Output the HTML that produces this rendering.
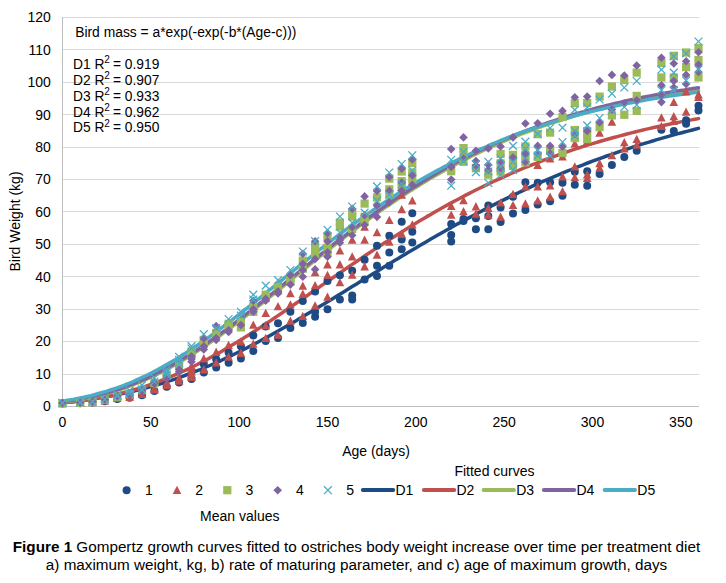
<!DOCTYPE html>
<html><head><meta charset="utf-8"><style>
html,body{margin:0;padding:0;background:#fff;width:726px;height:583px;overflow:hidden}
svg{display:block}
.t{font-family:"Liberation Sans",Arial,sans-serif;font-size:14px;fill:#000}
.c{font-family:"Liberation Sans",Arial,sans-serif;font-size:15.25px;fill:#000}
</style></head><body>
<svg width="726" height="583" viewBox="0 0 726 583">
<line x1="62" y1="374.5" x2="699" y2="374.5" stroke="#D9D9D9" stroke-width="1"/>
<line x1="62" y1="341.5" x2="699" y2="341.5" stroke="#D9D9D9" stroke-width="1"/>
<line x1="62" y1="309.5" x2="699" y2="309.5" stroke="#D9D9D9" stroke-width="1"/>
<line x1="62" y1="276.5" x2="699" y2="276.5" stroke="#D9D9D9" stroke-width="1"/>
<line x1="62" y1="244.5" x2="699" y2="244.5" stroke="#D9D9D9" stroke-width="1"/>
<line x1="62" y1="211.5" x2="699" y2="211.5" stroke="#D9D9D9" stroke-width="1"/>
<line x1="62" y1="179.5" x2="699" y2="179.5" stroke="#D9D9D9" stroke-width="1"/>
<line x1="62" y1="147.5" x2="699" y2="147.5" stroke="#D9D9D9" stroke-width="1"/>
<line x1="62" y1="114.5" x2="699" y2="114.5" stroke="#D9D9D9" stroke-width="1"/>
<line x1="62" y1="82.5" x2="699" y2="82.5" stroke="#D9D9D9" stroke-width="1"/>
<line x1="62" y1="49.5" x2="699" y2="49.5" stroke="#D9D9D9" stroke-width="1"/>
<line x1="62" y1="17.5" x2="699" y2="17.5" stroke="#D9D9D9" stroke-width="1"/>
<line x1="62.5" y1="17" x2="62.5" y2="407" stroke="#BFBFBF" stroke-width="1"/>
<line x1="62" y1="406.5" x2="699" y2="406.5" stroke="#BFBFBF" stroke-width="1"/>
<text x="50.8" y="411.2" text-anchor="end" class="t">0</text>
<text x="50.8" y="378.8" text-anchor="end" class="t">10</text>
<text x="50.8" y="346.4" text-anchor="end" class="t">20</text>
<text x="50.8" y="313.9" text-anchor="end" class="t">30</text>
<text x="50.8" y="281.5" text-anchor="end" class="t">40</text>
<text x="50.8" y="249.1" text-anchor="end" class="t">50</text>
<text x="50.8" y="216.7" text-anchor="end" class="t">60</text>
<text x="50.8" y="184.3" text-anchor="end" class="t">70</text>
<text x="50.8" y="151.9" text-anchor="end" class="t">80</text>
<text x="50.8" y="119.5" text-anchor="end" class="t">90</text>
<text x="50.8" y="87.0" text-anchor="end" class="t">100</text>
<text x="50.8" y="54.6" text-anchor="end" class="t">110</text>
<text x="50.8" y="22.2" text-anchor="end" class="t">120</text>
<text x="62.5" y="427.2" text-anchor="middle" class="t">0</text>
<text x="150.8" y="427.2" text-anchor="middle" class="t">50</text>
<text x="239.2" y="427.2" text-anchor="middle" class="t">100</text>
<text x="327.5" y="427.2" text-anchor="middle" class="t">150</text>
<text x="415.8" y="427.2" text-anchor="middle" class="t">200</text>
<text x="504.2" y="427.2" text-anchor="middle" class="t">250</text>
<text x="592.5" y="427.2" text-anchor="middle" class="t">300</text>
<text x="680.8" y="427.2" text-anchor="middle" class="t">350</text>
<polyline points="62.5,402.4 66.0,402.1 69.6,401.7 73.1,401.4 76.6,401.0 80.2,400.6 83.7,400.1 87.2,399.7 90.8,399.2 94.3,398.7 97.8,398.1 101.4,397.6 104.9,397.0 108.4,396.4 112.0,395.7 115.5,395.0 119.0,394.3 122.6,393.6 126.1,392.8 129.6,392.1 133.2,391.2 136.7,390.4 140.2,389.5 143.8,388.6 147.3,387.6 150.8,386.6 154.4,385.6 157.9,384.6 161.4,383.5 165.0,382.4 168.5,381.2 172.0,380.1 175.6,378.9 179.1,377.6 182.6,376.3 186.2,375.0 189.7,373.7 193.2,372.3 196.8,370.9 200.3,369.5 203.8,368.0 207.4,366.5 210.9,365.0 214.4,363.5 218.0,361.9 221.5,360.3 225.0,358.6 228.6,356.9 232.1,355.3 235.6,353.5 239.2,351.8 242.7,350.0 246.2,348.2 249.8,346.4 253.3,344.5 256.8,342.7 260.4,340.8 263.9,338.9 267.4,337.0 271.0,335.0 274.5,333.0 278.0,331.1 281.6,329.0 285.1,327.0 288.6,325.0 292.2,322.9 295.7,320.9 299.2,318.8 302.8,316.7 306.3,314.6 309.8,312.5 313.4,310.4 316.9,308.3 320.4,306.1 324.0,304.0 327.5,301.8 331.0,299.7 334.6,297.5 338.1,295.3 341.6,293.2 345.2,291.0 348.7,288.8 352.2,286.6 355.8,284.4 359.3,282.3 362.8,280.1 366.4,277.9 369.9,275.7 373.4,273.6 377.0,271.4 380.5,269.2 384.0,267.1 387.6,264.9 391.1,262.8 394.6,260.6 398.2,258.5 401.7,256.3 405.2,254.2 408.8,252.1 412.3,250.0 415.8,247.9 419.4,245.8 422.9,243.7 426.4,241.7 430.0,239.6 433.5,237.6 437.0,235.6 440.6,233.5 444.1,231.5 447.6,229.5 451.2,227.6 454.7,225.6 458.2,223.6 461.8,221.7 465.3,219.8 468.8,217.9 472.4,216.0 475.9,214.1 479.4,212.2 483.0,210.4 486.5,208.5 490.0,206.7 493.6,204.9 497.1,203.1 500.6,201.4 504.2,199.6 507.7,197.9 511.2,196.1 514.8,194.4 518.3,192.8 521.8,191.1 525.4,189.4 528.9,187.8 532.4,186.2 536.0,184.6 539.5,183.0 543.0,181.4 546.6,179.9 550.1,178.3 553.6,176.8 557.2,175.3 560.7,173.8 564.2,172.3 567.8,170.9 571.3,169.5 574.8,168.0 578.4,166.6 581.9,165.3 585.4,163.9 589.0,162.5 592.5,161.2 596.0,159.9 599.6,158.6 603.1,157.3 606.6,156.0 610.2,154.8 613.7,153.6 617.2,152.3 620.8,151.1 624.3,149.9 627.8,148.8 631.4,147.6 634.9,146.5 638.4,145.3 642.0,144.2 645.5,143.1 649.0,142.1 652.6,141.0 656.1,139.9 659.6,138.9 663.2,137.9 666.7,136.9 670.2,135.9 673.8,134.9 677.3,133.9 680.8,133.0 684.4,132.0 687.9,131.1 691.4,130.2 695.0,129.3 698.5,128.4" fill="none" stroke="#1F4B85" stroke-width="3.5" stroke-linejoin="round" stroke-linecap="round"/>
<polyline points="62.5,403.0 66.0,402.6 69.6,402.2 73.1,401.9 76.6,401.4 80.2,401.0 83.7,400.5 87.2,400.0 90.8,399.4 94.3,398.8 97.8,398.2 101.4,397.6 104.9,396.9 108.4,396.2 112.0,395.4 115.5,394.6 119.0,393.8 122.6,392.9 126.1,392.0 129.6,391.0 133.2,390.0 136.7,389.0 140.2,387.9 143.8,386.8 147.3,385.6 150.8,384.4 154.4,383.1 157.9,381.8 161.4,380.5 165.0,379.1 168.5,377.6 172.0,376.2 175.6,374.7 179.1,373.1 182.6,371.5 186.2,369.9 189.7,368.2 193.2,366.5 196.8,364.7 200.3,362.9 203.8,361.1 207.4,359.2 210.9,357.3 214.4,355.3 218.0,353.4 221.5,351.4 225.0,349.3 228.6,347.2 232.1,345.1 235.6,343.0 239.2,340.8 242.7,338.7 246.2,336.4 249.8,334.2 253.3,331.9 256.8,329.7 260.4,327.4 263.9,325.0 267.4,322.7 271.0,320.4 274.5,318.0 278.0,315.6 281.6,313.2 285.1,310.8 288.6,308.4 292.2,305.9 295.7,303.5 299.2,301.1 302.8,298.6 306.3,296.2 309.8,293.7 313.4,291.3 316.9,288.8 320.4,286.3 324.0,283.9 327.5,281.4 331.0,279.0 334.6,276.5 338.1,274.1 341.6,271.6 345.2,269.2 348.7,266.8 352.2,264.4 355.8,262.0 359.3,259.6 362.8,257.2 366.4,254.8 369.9,252.5 373.4,250.1 377.0,247.8 380.5,245.5 384.0,243.2 387.6,240.9 391.1,238.6 394.6,236.4 398.2,234.1 401.7,231.9 405.2,229.7 408.8,227.5 412.3,225.4 415.8,223.2 419.4,221.1 422.9,219.0 426.4,216.9 430.0,214.9 433.5,212.8 437.0,210.8 440.6,208.8 444.1,206.8 447.6,204.9 451.2,202.9 454.7,201.0 458.2,199.2 461.8,197.3 465.3,195.4 468.8,193.6 472.4,191.8 475.9,190.0 479.4,188.3 483.0,186.6 486.5,184.9 490.0,183.2 493.6,181.5 497.1,179.9 500.6,178.3 504.2,176.7 507.7,175.1 511.2,173.5 514.8,172.0 518.3,170.5 521.8,169.0 525.4,167.5 528.9,166.1 532.4,164.7 536.0,163.3 539.5,161.9 543.0,160.5 546.6,159.2 550.1,157.9 553.6,156.6 557.2,155.3 560.7,154.1 564.2,152.8 567.8,151.6 571.3,150.4 574.8,149.2 578.4,148.1 581.9,146.9 585.4,145.8 589.0,144.7 592.5,143.6 596.0,142.6 599.6,141.5 603.1,140.5 606.6,139.5 610.2,138.5 613.7,137.5 617.2,136.6 620.8,135.6 624.3,134.7 627.8,133.8 631.4,132.9 634.9,132.0 638.4,131.1 642.0,130.3 645.5,129.4 649.0,128.6 652.6,127.8 656.1,127.0 659.6,126.2 663.2,125.5 666.7,124.7 670.2,124.0 673.8,123.3 677.3,122.6 680.8,121.9 684.4,121.2 687.9,120.5 691.4,119.9 695.0,119.2 698.5,118.6" fill="none" stroke="#C0504D" stroke-width="3.5" stroke-linejoin="round" stroke-linecap="round"/>
<polyline points="62.5,402.2 66.0,401.7 69.6,401.2 73.1,400.7 76.6,400.2 80.2,399.6 83.7,398.9 87.2,398.2 90.8,397.5 94.3,396.7 97.8,395.9 101.4,395.0 104.9,394.1 108.4,393.2 112.0,392.1 115.5,391.1 119.0,389.9 122.6,388.8 126.1,387.5 129.6,386.2 133.2,384.9 136.7,383.5 140.2,382.1 143.8,380.6 147.3,379.0 150.8,377.4 154.4,375.7 157.9,374.0 161.4,372.2 165.0,370.4 168.5,368.5 172.0,366.5 175.6,364.6 179.1,362.5 182.6,360.4 186.2,358.3 189.7,356.1 193.2,353.9 196.8,351.6 200.3,349.3 203.8,346.9 207.4,344.5 210.9,342.1 214.4,339.6 218.0,337.1 221.5,334.5 225.0,331.9 228.6,329.3 232.1,326.7 235.6,324.0 239.2,321.3 242.7,318.6 246.2,315.9 249.8,313.1 253.3,310.3 256.8,307.5 260.4,304.7 263.9,301.9 267.4,299.0 271.0,296.2 274.5,293.3 278.0,290.5 281.6,287.6 285.1,284.8 288.6,281.9 292.2,279.0 295.7,276.1 299.2,273.3 302.8,270.4 306.3,267.6 309.8,264.7 313.4,261.9 316.9,259.0 320.4,256.2 324.0,253.4 327.5,250.6 331.0,247.8 334.6,245.1 338.1,242.3 341.6,239.6 345.2,236.9 348.7,234.2 352.2,231.5 355.8,228.8 359.3,226.2 362.8,223.6 366.4,221.0 369.9,218.4 373.4,215.9 377.0,213.4 380.5,210.9 384.0,208.4 387.6,206.0 391.1,203.6 394.6,201.2 398.2,198.8 401.7,196.5 405.2,194.2 408.8,191.9 412.3,189.7 415.8,187.4 419.4,185.2 422.9,183.1 426.4,180.9 430.0,178.8 433.5,176.8 437.0,174.7 440.6,172.7 444.1,170.7 447.6,168.7 451.2,166.8 454.7,164.9 458.2,163.0 461.8,161.2 465.3,159.4 468.8,157.6 472.4,155.8 475.9,154.1 479.4,152.4 483.0,150.7 486.5,149.0 490.0,147.4 493.6,145.8 497.1,144.2 500.6,142.7 504.2,141.2 507.7,139.7 511.2,138.2 514.8,136.8 518.3,135.4 521.8,134.0 525.4,132.6 528.9,131.3 532.4,130.0 536.0,128.7 539.5,127.4 543.0,126.2 546.6,124.9 550.1,123.7 553.6,122.6 557.2,121.4 560.7,120.3 564.2,119.1 567.8,118.1 571.3,117.0 574.8,115.9 578.4,114.9 581.9,113.9 585.4,112.9 589.0,111.9 592.5,111.0 596.0,110.0 599.6,109.1 603.1,108.2 606.6,107.3 610.2,106.5 613.7,105.6 617.2,104.8 620.8,104.0 624.3,103.2 627.8,102.4 631.4,101.7 634.9,100.9 638.4,100.2 642.0,99.5 645.5,98.8 649.0,98.1 652.6,97.4 656.1,96.7 659.6,96.1 663.2,95.5 666.7,94.8 670.2,94.2 673.8,93.6 677.3,93.1 680.8,92.5 684.4,91.9 687.9,91.4 691.4,90.8 695.0,90.3 698.5,89.8" fill="none" stroke="#9BBB59" stroke-width="3.5" stroke-linejoin="round" stroke-linecap="round"/>
<polyline points="62.5,401.8 66.0,401.3 69.6,400.8 73.1,400.2 76.6,399.6 80.2,399.0 83.7,398.3 87.2,397.6 90.8,396.9 94.3,396.1 97.8,395.2 101.4,394.3 104.9,393.4 108.4,392.4 112.0,391.3 115.5,390.2 119.0,389.0 122.6,387.8 126.1,386.6 129.6,385.2 133.2,383.9 136.7,382.4 140.2,381.0 143.8,379.4 147.3,377.8 150.8,376.2 154.4,374.5 157.9,372.7 161.4,370.9 165.0,369.1 168.5,367.1 172.0,365.2 175.6,363.2 179.1,361.1 182.6,359.0 186.2,356.8 189.7,354.6 193.2,352.4 196.8,350.1 200.3,347.7 203.8,345.4 207.4,342.9 210.9,340.5 214.4,338.0 218.0,335.5 221.5,332.9 225.0,330.3 228.6,327.7 232.1,325.0 235.6,322.4 239.2,319.7 242.7,316.9 246.2,314.2 249.8,311.4 253.3,308.6 256.8,305.8 260.4,303.0 263.9,300.2 267.4,297.4 271.0,294.5 274.5,291.7 278.0,288.8 281.6,286.0 285.1,283.1 288.6,280.2 292.2,277.3 295.7,274.5 299.2,271.6 302.8,268.8 306.3,265.9 309.8,263.1 313.4,260.2 316.9,257.4 320.4,254.6 324.0,251.8 327.5,249.0 331.0,246.2 334.6,243.4 338.1,240.7 341.6,238.0 345.2,235.3 348.7,232.6 352.2,229.9 355.8,227.3 359.3,224.6 362.8,222.0 366.4,219.4 369.9,216.9 373.4,214.3 377.0,211.8 380.5,209.3 384.0,206.9 387.6,204.4 391.1,202.0 394.6,199.6 398.2,197.3 401.7,194.9 405.2,192.6 408.8,190.4 412.3,188.1 415.8,185.9 419.4,183.7 422.9,181.5 426.4,179.4 430.0,177.3 433.5,175.2 437.0,173.2 440.6,171.1 444.1,169.1 447.6,167.2 451.2,165.2 454.7,163.3 458.2,161.5 461.8,159.6 465.3,157.8 468.8,156.0 472.4,154.2 475.9,152.5 479.4,150.8 483.0,149.1 486.5,147.4 490.0,145.8 493.6,144.2 497.1,142.6 500.6,141.1 504.2,139.6 507.7,138.1 511.2,136.6 514.8,135.1 518.3,133.7 521.8,132.3 525.4,130.9 528.9,129.6 532.4,128.3 536.0,127.0 539.5,125.7 543.0,124.4 546.6,123.2 550.1,122.0 553.6,120.8 557.2,119.7 560.7,118.5 564.2,117.4 567.8,116.3 571.3,115.2 574.8,114.2 578.4,113.1 581.9,112.1 585.4,111.1 589.0,110.1 592.5,109.2 596.0,108.2 599.6,107.3 603.1,106.4 606.6,105.5 610.2,104.6 613.7,103.8 617.2,102.9 620.8,102.1 624.3,101.3 627.8,100.5 631.4,99.7 634.9,99.0 638.4,98.2 642.0,97.5 645.5,96.8 649.0,96.1 652.6,95.4 656.1,94.8 659.6,94.1 663.2,93.5 666.7,92.8 670.2,92.2 673.8,91.6 677.3,91.0 680.8,90.4 684.4,89.9 687.9,89.3 691.4,88.8 695.0,88.2 698.5,87.7" fill="none" stroke="#8064A2" stroke-width="3.5" stroke-linejoin="round" stroke-linecap="round"/>
<polyline points="62.5,401.1 66.0,400.6 69.6,400.0 73.1,399.4 76.6,398.7 80.2,398.0 83.7,397.3 87.2,396.5 90.8,395.7 94.3,394.8 97.8,393.8 101.4,392.8 104.9,391.8 108.4,390.7 112.0,389.5 115.5,388.3 119.0,387.1 122.6,385.8 126.1,384.4 129.6,383.0 133.2,381.5 136.7,379.9 140.2,378.3 143.8,376.7 147.3,375.0 150.8,373.2 154.4,371.4 157.9,369.5 161.4,367.6 165.0,365.6 168.5,363.6 172.0,361.5 175.6,359.4 179.1,357.2 182.6,355.0 186.2,352.8 189.7,350.4 193.2,348.1 196.8,345.7 200.3,343.3 203.8,340.8 207.4,338.3 210.9,335.7 214.4,333.2 218.0,330.5 221.5,327.9 225.0,325.2 228.6,322.6 232.1,319.8 235.6,317.1 239.2,314.3 242.7,311.6 246.2,308.8 249.8,306.0 253.3,303.1 256.8,300.3 260.4,297.5 263.9,294.6 267.4,291.7 271.0,288.9 274.5,286.0 278.0,283.2 281.6,280.3 285.1,277.4 288.6,274.6 292.2,271.7 295.7,268.8 299.2,266.0 302.8,263.2 306.3,260.3 309.8,257.5 313.4,254.7 316.9,251.9 320.4,249.2 324.0,246.4 327.5,243.7 331.0,240.9 334.6,238.2 338.1,235.5 341.6,232.9 345.2,230.2 348.7,227.6 352.2,225.0 355.8,222.4 359.3,219.9 362.8,217.4 366.4,214.9 369.9,212.4 373.4,209.9 377.0,207.5 380.5,205.1 384.0,202.7 387.6,200.4 391.1,198.1 394.6,195.8 398.2,193.5 401.7,191.3 405.2,189.1 408.8,186.9 412.3,184.8 415.8,182.7 419.4,180.6 422.9,178.5 426.4,176.5 430.0,174.5 433.5,172.5 437.0,170.6 440.6,168.7 444.1,166.8 447.6,165.0 451.2,163.1 454.7,161.3 458.2,159.6 461.8,157.8 465.3,156.1 468.8,154.5 472.4,152.8 475.9,151.2 479.4,149.6 483.0,148.0 486.5,146.5 490.0,144.9 493.6,143.5 497.1,142.0 500.6,140.5 504.2,139.1 507.7,137.7 511.2,136.4 514.8,135.0 518.3,133.7 521.8,132.4 525.4,131.2 528.9,129.9 532.4,128.7 536.0,127.5 539.5,126.3 543.0,125.2 546.6,124.1 550.1,122.9 553.6,121.9 557.2,120.8 560.7,119.7 564.2,118.7 567.8,117.7 571.3,116.7 574.8,115.8 578.4,114.8 581.9,113.9 585.4,113.0 589.0,112.1 592.5,111.2 596.0,110.4 599.6,109.5 603.1,108.7 606.6,107.9 610.2,107.1 613.7,106.3 617.2,105.6 620.8,104.8 624.3,104.1 627.8,103.4 631.4,102.7 634.9,102.0 638.4,101.4 642.0,100.7 645.5,100.1 649.0,99.4 652.6,98.8 656.1,98.2 659.6,97.6 663.2,97.1 666.7,96.5 670.2,95.9 673.8,95.4 677.3,94.9 680.8,94.4 684.4,93.9 687.9,93.4 691.4,92.9 695.0,92.4 698.5,91.9" fill="none" stroke="#4BACC6" stroke-width="3.5" stroke-linejoin="round" stroke-linecap="round"/>
<circle cx="62.5" cy="403.6" r="4.0" fill="#1F4B85"/>
<circle cx="80.2" cy="403.3" r="4.0" fill="#1F4B85"/>
<circle cx="92.5" cy="402.6" r="4.0" fill="#1F4B85"/>
<circle cx="104.9" cy="401.3" r="4.0" fill="#1F4B85"/>
<circle cx="117.3" cy="399.0" r="4.0" fill="#1F4B85"/>
<circle cx="129.6" cy="397.7" r="4.0" fill="#1F4B85"/>
<circle cx="142.0" cy="395.2" r="4.0" fill="#1F4B85"/>
<circle cx="154.4" cy="390.9" r="4.0" fill="#1F4B85"/>
<circle cx="166.7" cy="386.7" r="4.0" fill="#1F4B85"/>
<circle cx="179.1" cy="382.5" r="4.0" fill="#1F4B85"/>
<circle cx="191.5" cy="378.9" r="4.0" fill="#1F4B85"/>
<circle cx="203.8" cy="372.5" r="4.0" fill="#1F4B85"/>
<circle cx="203.8" cy="364.0" r="4.0" fill="#1F4B85"/>
<circle cx="216.2" cy="367.6" r="4.0" fill="#1F4B85"/>
<circle cx="216.2" cy="359.2" r="4.0" fill="#1F4B85"/>
<circle cx="228.6" cy="362.7" r="4.0" fill="#1F4B85"/>
<circle cx="228.6" cy="352.4" r="4.0" fill="#1F4B85"/>
<circle cx="240.9" cy="358.5" r="4.0" fill="#1F4B85"/>
<circle cx="240.9" cy="346.2" r="4.0" fill="#1F4B85"/>
<circle cx="253.3" cy="351.1" r="4.0" fill="#1F4B85"/>
<circle cx="253.3" cy="335.5" r="4.0" fill="#1F4B85"/>
<circle cx="265.7" cy="341.0" r="4.0" fill="#1F4B85"/>
<circle cx="265.7" cy="326.4" r="4.0" fill="#1F4B85"/>
<circle cx="278.0" cy="338.1" r="4.0" fill="#1F4B85"/>
<circle cx="278.0" cy="323.2" r="4.0" fill="#1F4B85"/>
<circle cx="290.4" cy="328.1" r="4.0" fill="#1F4B85"/>
<circle cx="290.4" cy="311.8" r="4.0" fill="#1F4B85"/>
<circle cx="302.8" cy="322.9" r="4.0" fill="#1F4B85"/>
<circle cx="302.8" cy="301.1" r="4.0" fill="#1F4B85"/>
<circle cx="315.1" cy="316.7" r="4.0" fill="#1F4B85"/>
<circle cx="315.1" cy="311.8" r="4.0" fill="#1F4B85"/>
<circle cx="315.1" cy="291.4" r="4.0" fill="#1F4B85"/>
<circle cx="327.5" cy="309.2" r="4.0" fill="#1F4B85"/>
<circle cx="327.5" cy="281.0" r="4.0" fill="#1F4B85"/>
<circle cx="339.9" cy="299.5" r="4.0" fill="#1F4B85"/>
<circle cx="339.9" cy="275.2" r="4.0" fill="#1F4B85"/>
<circle cx="352.2" cy="299.5" r="4.0" fill="#1F4B85"/>
<circle cx="352.2" cy="295.6" r="4.0" fill="#1F4B85"/>
<circle cx="352.2" cy="270.7" r="4.0" fill="#1F4B85"/>
<circle cx="364.6" cy="279.4" r="4.0" fill="#1F4B85"/>
<circle cx="364.6" cy="259.7" r="4.0" fill="#1F4B85"/>
<circle cx="377.0" cy="275.9" r="4.0" fill="#1F4B85"/>
<circle cx="377.0" cy="265.8" r="4.0" fill="#1F4B85"/>
<circle cx="377.0" cy="245.7" r="4.0" fill="#1F4B85"/>
<circle cx="389.3" cy="265.8" r="4.0" fill="#1F4B85"/>
<circle cx="389.3" cy="252.5" r="4.0" fill="#1F4B85"/>
<circle cx="389.3" cy="235.7" r="4.0" fill="#1F4B85"/>
<circle cx="401.7" cy="249.3" r="4.0" fill="#1F4B85"/>
<circle cx="401.7" cy="239.6" r="4.0" fill="#1F4B85"/>
<circle cx="401.7" cy="221.7" r="4.0" fill="#1F4B85"/>
<circle cx="412.3" cy="242.5" r="4.0" fill="#1F4B85"/>
<circle cx="412.3" cy="231.8" r="4.0" fill="#1F4B85"/>
<circle cx="412.3" cy="213.3" r="4.0" fill="#1F4B85"/>
<circle cx="451.2" cy="241.5" r="4.0" fill="#1F4B85"/>
<circle cx="451.2" cy="235.0" r="4.0" fill="#1F4B85"/>
<circle cx="451.2" cy="224.0" r="4.0" fill="#1F4B85"/>
<circle cx="463.5" cy="221.1" r="4.0" fill="#1F4B85"/>
<circle cx="463.5" cy="219.1" r="4.0" fill="#1F4B85"/>
<circle cx="475.9" cy="229.2" r="4.0" fill="#1F4B85"/>
<circle cx="475.9" cy="218.2" r="4.0" fill="#1F4B85"/>
<circle cx="488.3" cy="229.2" r="4.0" fill="#1F4B85"/>
<circle cx="488.3" cy="215.9" r="4.0" fill="#1F4B85"/>
<circle cx="488.3" cy="205.5" r="4.0" fill="#1F4B85"/>
<circle cx="500.6" cy="222.0" r="4.0" fill="#1F4B85"/>
<circle cx="500.6" cy="207.5" r="4.0" fill="#1F4B85"/>
<circle cx="513.0" cy="213.6" r="4.0" fill="#1F4B85"/>
<circle cx="513.0" cy="196.8" r="4.0" fill="#1F4B85"/>
<circle cx="525.4" cy="210.1" r="4.0" fill="#1F4B85"/>
<circle cx="525.4" cy="182.2" r="4.0" fill="#1F4B85"/>
<circle cx="537.7" cy="204.5" r="4.0" fill="#1F4B85"/>
<circle cx="537.7" cy="182.8" r="4.0" fill="#1F4B85"/>
<circle cx="550.1" cy="201.3" r="4.0" fill="#1F4B85"/>
<circle cx="550.1" cy="182.2" r="4.0" fill="#1F4B85"/>
<circle cx="562.5" cy="195.8" r="4.0" fill="#1F4B85"/>
<circle cx="562.5" cy="182.8" r="4.0" fill="#1F4B85"/>
<circle cx="574.8" cy="184.8" r="4.0" fill="#1F4B85"/>
<circle cx="574.8" cy="171.8" r="4.0" fill="#1F4B85"/>
<circle cx="587.2" cy="185.7" r="4.0" fill="#1F4B85"/>
<circle cx="587.2" cy="171.2" r="4.0" fill="#1F4B85"/>
<circle cx="599.6" cy="174.1" r="4.0" fill="#1F4B85"/>
<circle cx="611.9" cy="165.0" r="4.0" fill="#1F4B85"/>
<circle cx="624.3" cy="156.9" r="4.0" fill="#1F4B85"/>
<circle cx="636.7" cy="150.7" r="4.0" fill="#1F4B85"/>
<circle cx="661.4" cy="129.7" r="4.0" fill="#1F4B85"/>
<circle cx="673.8" cy="131.0" r="4.0" fill="#1F4B85"/>
<circle cx="686.1" cy="123.8" r="4.0" fill="#1F4B85"/>
<circle cx="686.1" cy="120.3" r="4.0" fill="#1F4B85"/>
<circle cx="698.5" cy="110.5" r="4.0" fill="#1F4B85"/>
<circle cx="698.5" cy="105.7" r="4.0" fill="#1F4B85"/>
<path d="M62.5 398.9L66.8 407.2L58.2 407.2Z" fill="#C0504D"/>
<path d="M80.2 398.5L84.5 406.8L75.9 406.8Z" fill="#C0504D"/>
<path d="M92.5 397.9L96.8 406.2L88.2 406.2Z" fill="#C0504D"/>
<path d="M104.9 396.3L109.2 404.6L100.6 404.6Z" fill="#C0504D"/>
<path d="M117.3 393.7L121.6 402.0L113.0 402.0Z" fill="#C0504D"/>
<path d="M129.6 392.7L133.9 401.0L125.3 401.0Z" fill="#C0504D"/>
<path d="M129.6 390.8L133.9 399.1L125.3 399.1Z" fill="#C0504D"/>
<path d="M142.0 389.8L146.3 398.1L137.7 398.1Z" fill="#C0504D"/>
<path d="M142.0 386.5L146.3 394.8L137.7 394.8Z" fill="#C0504D"/>
<path d="M154.4 385.2L158.7 393.5L150.1 393.5Z" fill="#C0504D"/>
<path d="M154.4 383.9L158.7 392.2L150.1 392.2Z" fill="#C0504D"/>
<path d="M166.7 380.7L171.0 389.0L162.4 389.0Z" fill="#C0504D"/>
<path d="M166.7 378.1L171.0 386.4L162.4 386.4Z" fill="#C0504D"/>
<path d="M179.1 376.5L183.4 384.8L174.8 384.8Z" fill="#C0504D"/>
<path d="M179.1 373.6L183.4 381.9L174.8 381.9Z" fill="#C0504D"/>
<path d="M191.5 372.6L195.8 380.9L187.2 380.9Z" fill="#C0504D"/>
<path d="M191.5 369.8L195.8 378.1L187.2 378.1Z" fill="#C0504D"/>
<path d="M191.5 367.1L195.8 375.4L187.2 375.4Z" fill="#C0504D"/>
<path d="M191.5 364.3L195.8 372.6L187.2 372.6Z" fill="#C0504D"/>
<path d="M191.5 361.6L195.8 369.9L187.2 369.9Z" fill="#C0504D"/>
<path d="M203.8 365.1L208.1 373.4L199.5 373.4Z" fill="#C0504D"/>
<path d="M203.8 354.1L208.1 362.4L199.5 362.4Z" fill="#C0504D"/>
<path d="M216.2 358.3L220.5 366.6L211.9 366.6Z" fill="#C0504D"/>
<path d="M216.2 347.6L220.5 355.9L211.9 355.9Z" fill="#C0504D"/>
<path d="M228.6 352.5L232.9 360.8L224.3 360.8Z" fill="#C0504D"/>
<path d="M228.6 340.8L232.9 349.1L224.3 349.1Z" fill="#C0504D"/>
<path d="M240.9 348.6L245.2 356.9L236.6 356.9Z" fill="#C0504D"/>
<path d="M240.9 337.3L245.2 345.6L236.6 345.6Z" fill="#C0504D"/>
<path d="M253.3 339.5L257.6 347.8L249.0 347.8Z" fill="#C0504D"/>
<path d="M253.3 320.4L257.6 328.7L249.0 328.7Z" fill="#C0504D"/>
<path d="M265.7 333.7L270.0 342.0L261.4 342.0Z" fill="#C0504D"/>
<path d="M265.7 321.1L270.0 329.4L261.4 329.4Z" fill="#C0504D"/>
<path d="M265.7 308.7L270.0 317.0L261.4 317.0Z" fill="#C0504D"/>
<path d="M278.0 330.5L282.3 338.8L273.7 338.8Z" fill="#C0504D"/>
<path d="M278.0 301.9L282.3 310.2L273.7 310.2Z" fill="#C0504D"/>
<path d="M290.4 316.5L294.7 324.8L286.1 324.8Z" fill="#C0504D"/>
<path d="M290.4 300.3L294.7 308.6L286.1 308.6Z" fill="#C0504D"/>
<path d="M290.4 289.0L294.7 297.3L286.1 297.3Z" fill="#C0504D"/>
<path d="M302.8 311.7L307.1 320.0L298.5 320.0Z" fill="#C0504D"/>
<path d="M302.8 289.6L307.1 297.9L298.5 297.9Z" fill="#C0504D"/>
<path d="M302.8 281.5L307.1 289.8L298.5 289.8Z" fill="#C0504D"/>
<path d="M315.1 301.3L319.4 309.6L310.8 309.6Z" fill="#C0504D"/>
<path d="M315.1 280.9L319.4 289.2L310.8 289.2Z" fill="#C0504D"/>
<path d="M315.1 267.9L319.4 276.2L310.8 276.2Z" fill="#C0504D"/>
<path d="M327.5 292.5L331.8 300.8L323.2 300.8Z" fill="#C0504D"/>
<path d="M327.5 270.8L331.8 279.1L323.2 279.1Z" fill="#C0504D"/>
<path d="M327.5 260.1L331.8 268.4L323.2 268.4Z" fill="#C0504D"/>
<path d="M339.9 277.9L344.2 286.2L335.6 286.2Z" fill="#C0504D"/>
<path d="M339.9 260.1L344.2 268.4L335.6 268.4Z" fill="#C0504D"/>
<path d="M339.9 246.2L344.2 254.5L335.6 254.5Z" fill="#C0504D"/>
<path d="M352.2 270.5L356.5 278.8L347.9 278.8Z" fill="#C0504D"/>
<path d="M352.2 252.3L356.5 260.6L347.9 260.6Z" fill="#C0504D"/>
<path d="M352.2 235.5L356.5 243.8L347.9 243.8Z" fill="#C0504D"/>
<path d="M364.6 262.1L368.9 270.4L360.3 270.4Z" fill="#C0504D"/>
<path d="M364.6 235.5L368.9 243.8L360.3 243.8Z" fill="#C0504D"/>
<path d="M364.6 222.5L368.9 230.8L360.3 230.8Z" fill="#C0504D"/>
<path d="M377.0 250.4L381.3 258.7L372.7 258.7Z" fill="#C0504D"/>
<path d="M377.0 228.0L381.3 236.3L372.7 236.3Z" fill="#C0504D"/>
<path d="M389.3 237.4L393.6 245.7L385.0 245.7Z" fill="#C0504D"/>
<path d="M389.3 215.7L393.6 224.0L385.0 224.0Z" fill="#C0504D"/>
<path d="M401.7 229.6L406.0 237.9L397.4 237.9Z" fill="#C0504D"/>
<path d="M401.7 205.0L406.0 213.3L397.4 213.3Z" fill="#C0504D"/>
<path d="M401.7 190.4L406.0 198.7L397.4 198.7Z" fill="#C0504D"/>
<path d="M412.3 220.2L416.6 228.5L408.0 228.5Z" fill="#C0504D"/>
<path d="M412.3 196.3L416.6 204.6L408.0 204.6Z" fill="#C0504D"/>
<path d="M451.2 210.5L455.5 218.8L446.9 218.8Z" fill="#C0504D"/>
<path d="M451.2 201.8L455.5 210.1L446.9 210.1Z" fill="#C0504D"/>
<path d="M463.5 207.0L467.8 215.3L459.2 215.3Z" fill="#C0504D"/>
<path d="M463.5 195.9L467.8 204.2L459.2 204.2Z" fill="#C0504D"/>
<path d="M475.9 209.5L480.2 217.8L471.6 217.8Z" fill="#C0504D"/>
<path d="M475.9 202.1L480.2 210.4L471.6 210.4Z" fill="#C0504D"/>
<path d="M488.3 210.5L492.6 218.8L484.0 218.8Z" fill="#C0504D"/>
<path d="M488.3 203.7L492.6 212.0L484.0 212.0Z" fill="#C0504D"/>
<path d="M500.6 212.5L504.9 220.8L496.3 220.8Z" fill="#C0504D"/>
<path d="M500.6 198.2L504.9 206.5L496.3 206.5Z" fill="#C0504D"/>
<path d="M513.0 200.8L517.3 209.1L508.7 209.1Z" fill="#C0504D"/>
<path d="M513.0 189.8L517.3 198.1L508.7 198.1Z" fill="#C0504D"/>
<path d="M525.4 199.2L529.7 207.5L521.1 207.5Z" fill="#C0504D"/>
<path d="M525.4 182.3L529.7 190.6L521.1 190.6Z" fill="#C0504D"/>
<path d="M537.7 196.3L542.0 204.6L533.4 204.6Z" fill="#C0504D"/>
<path d="M537.7 182.3L542.0 190.6L533.4 190.6Z" fill="#C0504D"/>
<path d="M537.7 160.6L542.0 168.9L533.4 168.9Z" fill="#C0504D"/>
<path d="M550.1 192.4L554.4 200.7L545.8 200.7Z" fill="#C0504D"/>
<path d="M550.1 181.3L554.4 189.6L545.8 189.6Z" fill="#C0504D"/>
<path d="M550.1 154.1L554.4 162.4L545.8 162.4Z" fill="#C0504D"/>
<path d="M562.5 186.9L566.8 195.2L558.2 195.2Z" fill="#C0504D"/>
<path d="M562.5 172.3L566.8 180.6L558.2 180.6Z" fill="#C0504D"/>
<path d="M562.5 152.2L566.8 160.5L558.2 160.5Z" fill="#C0504D"/>
<path d="M574.8 172.9L579.1 181.2L570.5 181.2Z" fill="#C0504D"/>
<path d="M574.8 162.2L579.1 170.5L570.5 170.5Z" fill="#C0504D"/>
<path d="M574.8 139.2L579.1 147.5L570.5 147.5Z" fill="#C0504D"/>
<path d="M587.2 173.6L591.5 181.9L582.9 181.9Z" fill="#C0504D"/>
<path d="M587.2 170.3L591.5 178.6L582.9 178.6Z" fill="#C0504D"/>
<path d="M587.2 136.9L591.5 145.2L582.9 145.2Z" fill="#C0504D"/>
<path d="M599.6 163.5L603.9 171.8L595.3 171.8Z" fill="#C0504D"/>
<path d="M599.6 159.0L603.9 167.3L595.3 167.3Z" fill="#C0504D"/>
<path d="M599.6 128.5L603.9 136.8L595.3 136.8Z" fill="#C0504D"/>
<path d="M611.9 150.9L616.2 159.2L607.6 159.2Z" fill="#C0504D"/>
<path d="M611.9 117.5L616.2 125.8L607.6 125.8Z" fill="#C0504D"/>
<path d="M624.3 144.1L628.6 152.4L620.0 152.4Z" fill="#C0504D"/>
<path d="M624.3 137.9L628.6 146.2L620.0 146.2Z" fill="#C0504D"/>
<path d="M636.7 140.5L641.0 148.8L632.4 148.8Z" fill="#C0504D"/>
<path d="M636.7 134.7L641.0 143.0L632.4 143.0Z" fill="#C0504D"/>
<path d="M661.4 121.7L665.7 130.0L657.1 130.0Z" fill="#C0504D"/>
<path d="M661.4 113.3L665.7 121.6L657.1 121.6Z" fill="#C0504D"/>
<path d="M673.8 116.8L678.1 125.1L669.5 125.1Z" fill="#C0504D"/>
<path d="M673.8 112.0L678.1 120.3L669.5 120.3Z" fill="#C0504D"/>
<path d="M673.8 97.7L678.1 106.0L669.5 106.0Z" fill="#C0504D"/>
<path d="M686.1 107.4L690.4 115.7L681.8 115.7Z" fill="#C0504D"/>
<path d="M686.1 87.3L690.4 95.6L681.8 95.6Z" fill="#C0504D"/>
<path d="M698.5 92.8L702.8 101.1L694.2 101.1Z" fill="#C0504D"/>
<path d="M698.5 90.3L702.8 98.6L694.2 98.6Z" fill="#C0504D"/>
<rect x="58.4" y="399.2" width="8.2" height="8.2" fill="#9BBB59"/>
<rect x="76.1" y="398.8" width="8.2" height="8.2" fill="#9BBB59"/>
<rect x="88.4" y="397.9" width="8.2" height="8.2" fill="#9BBB59"/>
<rect x="100.8" y="395.9" width="8.2" height="8.2" fill="#9BBB59"/>
<rect x="113.2" y="392.7" width="8.2" height="8.2" fill="#9BBB59"/>
<rect x="125.5" y="390.1" width="8.2" height="8.2" fill="#9BBB59"/>
<rect x="137.9" y="385.5" width="8.2" height="8.2" fill="#9BBB59"/>
<rect x="150.3" y="379.1" width="8.2" height="8.2" fill="#9BBB59"/>
<rect x="162.6" y="371.6" width="8.2" height="8.2" fill="#9BBB59"/>
<rect x="175.0" y="361.9" width="8.2" height="8.2" fill="#9BBB59"/>
<rect x="187.4" y="350.5" width="8.2" height="8.2" fill="#9BBB59"/>
<rect x="187.4" y="347.3" width="8.2" height="8.2" fill="#9BBB59"/>
<rect x="199.7" y="339.8" width="8.2" height="8.2" fill="#9BBB59"/>
<rect x="199.7" y="335.9" width="8.2" height="8.2" fill="#9BBB59"/>
<rect x="212.1" y="328.8" width="8.2" height="8.2" fill="#9BBB59"/>
<rect x="224.5" y="322.0" width="8.2" height="8.2" fill="#9BBB59"/>
<rect x="224.5" y="319.7" width="8.2" height="8.2" fill="#9BBB59"/>
<rect x="236.8" y="323.3" width="8.2" height="8.2" fill="#9BBB59"/>
<rect x="236.8" y="317.8" width="8.2" height="8.2" fill="#9BBB59"/>
<rect x="249.2" y="307.7" width="8.2" height="8.2" fill="#9BBB59"/>
<rect x="249.2" y="303.5" width="8.2" height="8.2" fill="#9BBB59"/>
<rect x="261.6" y="290.6" width="8.2" height="8.2" fill="#9BBB59"/>
<rect x="261.6" y="293.8" width="8.2" height="8.2" fill="#9BBB59"/>
<rect x="273.9" y="282.8" width="8.2" height="8.2" fill="#9BBB59"/>
<rect x="273.9" y="285.7" width="8.2" height="8.2" fill="#9BBB59"/>
<rect x="286.3" y="274.4" width="8.2" height="8.2" fill="#9BBB59"/>
<rect x="286.3" y="277.6" width="8.2" height="8.2" fill="#9BBB59"/>
<rect x="298.7" y="264.6" width="8.2" height="8.2" fill="#9BBB59"/>
<rect x="298.7" y="256.5" width="8.2" height="8.2" fill="#9BBB59"/>
<rect x="311.0" y="249.7" width="8.2" height="8.2" fill="#9BBB59"/>
<rect x="311.0" y="245.8" width="8.2" height="8.2" fill="#9BBB59"/>
<rect x="311.0" y="241.9" width="8.2" height="8.2" fill="#9BBB59"/>
<rect x="323.4" y="248.4" width="8.2" height="8.2" fill="#9BBB59"/>
<rect x="323.4" y="243.6" width="8.2" height="8.2" fill="#9BBB59"/>
<rect x="323.4" y="232.5" width="8.2" height="8.2" fill="#9BBB59"/>
<rect x="335.8" y="222.5" width="8.2" height="8.2" fill="#9BBB59"/>
<rect x="335.8" y="218.6" width="8.2" height="8.2" fill="#9BBB59"/>
<rect x="348.1" y="224.8" width="8.2" height="8.2" fill="#9BBB59"/>
<rect x="348.1" y="212.4" width="8.2" height="8.2" fill="#9BBB59"/>
<rect x="348.1" y="208.5" width="8.2" height="8.2" fill="#9BBB59"/>
<rect x="360.5" y="217.6" width="8.2" height="8.2" fill="#9BBB59"/>
<rect x="360.5" y="212.8" width="8.2" height="8.2" fill="#9BBB59"/>
<rect x="360.5" y="199.5" width="8.2" height="8.2" fill="#9BBB59"/>
<rect x="372.9" y="193.3" width="8.2" height="8.2" fill="#9BBB59"/>
<rect x="385.2" y="190.1" width="8.2" height="8.2" fill="#9BBB59"/>
<rect x="385.2" y="185.2" width="8.2" height="8.2" fill="#9BBB59"/>
<rect x="385.2" y="174.5" width="8.2" height="8.2" fill="#9BBB59"/>
<rect x="397.6" y="183.6" width="8.2" height="8.2" fill="#9BBB59"/>
<rect x="397.6" y="177.1" width="8.2" height="8.2" fill="#9BBB59"/>
<rect x="397.6" y="167.4" width="8.2" height="8.2" fill="#9BBB59"/>
<rect x="408.2" y="175.5" width="8.2" height="8.2" fill="#9BBB59"/>
<rect x="408.2" y="168.4" width="8.2" height="8.2" fill="#9BBB59"/>
<rect x="408.2" y="159.0" width="8.2" height="8.2" fill="#9BBB59"/>
<rect x="447.1" y="167.1" width="8.2" height="8.2" fill="#9BBB59"/>
<rect x="459.4" y="157.7" width="8.2" height="8.2" fill="#9BBB59"/>
<rect x="459.4" y="151.2" width="8.2" height="8.2" fill="#9BBB59"/>
<rect x="459.4" y="144.0" width="8.2" height="8.2" fill="#9BBB59"/>
<rect x="471.8" y="164.1" width="8.2" height="8.2" fill="#9BBB59"/>
<rect x="484.2" y="170.6" width="8.2" height="8.2" fill="#9BBB59"/>
<rect x="496.5" y="167.4" width="8.2" height="8.2" fill="#9BBB59"/>
<rect x="496.5" y="159.3" width="8.2" height="8.2" fill="#9BBB59"/>
<rect x="496.5" y="149.9" width="8.2" height="8.2" fill="#9BBB59"/>
<rect x="508.9" y="161.9" width="8.2" height="8.2" fill="#9BBB59"/>
<rect x="508.9" y="156.0" width="8.2" height="8.2" fill="#9BBB59"/>
<rect x="508.9" y="150.8" width="8.2" height="8.2" fill="#9BBB59"/>
<rect x="521.3" y="158.3" width="8.2" height="8.2" fill="#9BBB59"/>
<rect x="521.3" y="151.2" width="8.2" height="8.2" fill="#9BBB59"/>
<rect x="521.3" y="142.4" width="8.2" height="8.2" fill="#9BBB59"/>
<rect x="533.6" y="152.8" width="8.2" height="8.2" fill="#9BBB59"/>
<rect x="533.6" y="130.1" width="8.2" height="8.2" fill="#9BBB59"/>
<rect x="546.0" y="146.3" width="8.2" height="8.2" fill="#9BBB59"/>
<rect x="546.0" y="128.5" width="8.2" height="8.2" fill="#9BBB59"/>
<rect x="558.4" y="148.9" width="8.2" height="8.2" fill="#9BBB59"/>
<rect x="558.4" y="112.9" width="8.2" height="8.2" fill="#9BBB59"/>
<rect x="570.7" y="134.0" width="8.2" height="8.2" fill="#9BBB59"/>
<rect x="570.7" y="125.9" width="8.2" height="8.2" fill="#9BBB59"/>
<rect x="570.7" y="99.0" width="8.2" height="8.2" fill="#9BBB59"/>
<rect x="583.1" y="135.0" width="8.2" height="8.2" fill="#9BBB59"/>
<rect x="583.1" y="126.9" width="8.2" height="8.2" fill="#9BBB59"/>
<rect x="583.1" y="99.0" width="8.2" height="8.2" fill="#9BBB59"/>
<rect x="595.5" y="123.0" width="8.2" height="8.2" fill="#9BBB59"/>
<rect x="595.5" y="92.5" width="8.2" height="8.2" fill="#9BBB59"/>
<rect x="607.8" y="111.3" width="8.2" height="8.2" fill="#9BBB59"/>
<rect x="607.8" y="82.4" width="8.2" height="8.2" fill="#9BBB59"/>
<rect x="620.2" y="110.7" width="8.2" height="8.2" fill="#9BBB59"/>
<rect x="620.2" y="76.0" width="8.2" height="8.2" fill="#9BBB59"/>
<rect x="632.6" y="106.8" width="8.2" height="8.2" fill="#9BBB59"/>
<rect x="632.6" y="91.8" width="8.2" height="8.2" fill="#9BBB59"/>
<rect x="632.6" y="68.5" width="8.2" height="8.2" fill="#9BBB59"/>
<rect x="657.3" y="73.4" width="8.2" height="8.2" fill="#9BBB59"/>
<rect x="657.3" y="58.8" width="8.2" height="8.2" fill="#9BBB59"/>
<rect x="669.7" y="73.4" width="8.2" height="8.2" fill="#9BBB59"/>
<rect x="669.7" y="51.7" width="8.2" height="8.2" fill="#9BBB59"/>
<rect x="682.0" y="63.0" width="8.2" height="8.2" fill="#9BBB59"/>
<rect x="682.0" y="48.4" width="8.2" height="8.2" fill="#9BBB59"/>
<rect x="694.4" y="73.4" width="8.2" height="8.2" fill="#9BBB59"/>
<rect x="694.4" y="55.9" width="8.2" height="8.2" fill="#9BBB59"/>
<rect x="694.4" y="43.9" width="8.2" height="8.2" fill="#9BBB59"/>
<path d="M62.5 398.6L66.8 402.9L62.5 407.2L58.2 402.9Z" fill="#8064A2"/>
<path d="M80.2 398.3L84.5 402.6L80.2 406.9L75.9 402.6Z" fill="#8064A2"/>
<path d="M92.5 397.3L96.8 401.6L92.5 405.9L88.2 401.6Z" fill="#8064A2"/>
<path d="M104.9 395.4L109.2 399.7L104.9 404.0L100.6 399.7Z" fill="#8064A2"/>
<path d="M117.3 391.8L121.6 396.1L117.3 400.4L113.0 396.1Z" fill="#8064A2"/>
<path d="M129.6 390.9L133.9 395.2L129.6 399.5L125.3 395.2Z" fill="#8064A2"/>
<path d="M129.6 389.2L133.9 393.5L129.6 397.8L125.3 393.5Z" fill="#8064A2"/>
<path d="M142.0 386.6L146.3 390.9L142.0 395.2L137.7 390.9Z" fill="#8064A2"/>
<path d="M142.0 384.7L146.3 389.0L142.0 393.3L137.7 389.0Z" fill="#8064A2"/>
<path d="M154.4 379.5L158.7 383.8L154.4 388.1L150.1 383.8Z" fill="#8064A2"/>
<path d="M154.4 377.9L158.7 382.2L154.4 386.5L150.1 382.2Z" fill="#8064A2"/>
<path d="M166.7 374.3L171.0 378.6L166.7 382.9L162.4 378.6Z" fill="#8064A2"/>
<path d="M166.7 371.7L171.0 376.0L166.7 380.3L162.4 376.0Z" fill="#8064A2"/>
<path d="M179.1 367.5L183.4 371.8L179.1 376.1L174.8 371.8Z" fill="#8064A2"/>
<path d="M179.1 365.2L183.4 369.5L179.1 373.8L174.8 369.5Z" fill="#8064A2"/>
<path d="M191.5 357.5L195.8 361.8L191.5 366.1L187.2 361.8Z" fill="#8064A2"/>
<path d="M191.5 354.7L195.8 359.0L191.5 363.3L187.2 359.0Z" fill="#8064A2"/>
<path d="M191.5 352.0L195.8 356.3L191.5 360.6L187.2 356.3Z" fill="#8064A2"/>
<path d="M203.8 345.1L208.1 349.4L203.8 353.7L199.5 349.4Z" fill="#8064A2"/>
<path d="M203.8 341.9L208.1 346.2L203.8 350.5L199.5 346.2Z" fill="#8064A2"/>
<path d="M203.8 334.1L208.1 338.4L203.8 342.7L199.5 338.4Z" fill="#8064A2"/>
<path d="M216.2 335.7L220.5 340.0L216.2 344.3L211.9 340.0Z" fill="#8064A2"/>
<path d="M216.2 333.8L220.5 338.1L216.2 342.4L211.9 338.1Z" fill="#8064A2"/>
<path d="M216.2 321.8L220.5 326.1L216.2 330.4L211.9 326.1Z" fill="#8064A2"/>
<path d="M228.6 327.6L232.9 331.9L228.6 336.2L224.3 331.9Z" fill="#8064A2"/>
<path d="M228.6 326.0L232.9 330.3L228.6 334.6L224.3 330.3Z" fill="#8064A2"/>
<path d="M240.9 320.8L245.2 325.1L240.9 329.4L236.6 325.1Z" fill="#8064A2"/>
<path d="M253.3 307.5L257.6 311.8L253.3 316.1L249.0 311.8Z" fill="#8064A2"/>
<path d="M253.3 304.9L257.6 309.2L253.3 313.6L249.0 309.2Z" fill="#8064A2"/>
<path d="M253.3 296.5L257.6 300.8L253.3 305.1L249.0 300.8Z" fill="#8064A2"/>
<path d="M265.7 296.5L270.0 300.8L265.7 305.1L261.4 300.8Z" fill="#8064A2"/>
<path d="M265.7 294.6L270.0 298.9L265.7 303.2L261.4 298.9Z" fill="#8064A2"/>
<path d="M278.0 289.1L282.3 293.4L278.0 297.7L273.7 293.4Z" fill="#8064A2"/>
<path d="M278.0 287.1L282.3 291.4L278.0 295.7L273.7 291.4Z" fill="#8064A2"/>
<path d="M290.4 280.3L294.7 284.6L290.4 288.9L286.1 284.6Z" fill="#8064A2"/>
<path d="M290.4 270.9L294.7 275.2L290.4 279.5L286.1 275.2Z" fill="#8064A2"/>
<path d="M302.8 272.5L307.1 276.8L302.8 281.1L298.5 276.8Z" fill="#8064A2"/>
<path d="M302.8 265.7L307.1 270.0L302.8 274.3L298.5 270.0Z" fill="#8064A2"/>
<path d="M302.8 259.6L307.1 263.9L302.8 268.2L298.5 263.9Z" fill="#8064A2"/>
<path d="M302.8 249.5L307.1 253.8L302.8 258.1L298.5 253.8Z" fill="#8064A2"/>
<path d="M315.1 265.1L319.4 269.4L315.1 273.7L310.8 269.4Z" fill="#8064A2"/>
<path d="M315.1 254.7L319.4 259.0L315.1 263.3L310.8 259.0Z" fill="#8064A2"/>
<path d="M315.1 236.9L319.4 241.2L315.1 245.5L310.8 241.2Z" fill="#8064A2"/>
<path d="M327.5 252.4L331.8 256.7L327.5 261.0L323.2 256.7Z" fill="#8064A2"/>
<path d="M327.5 247.9L331.8 252.2L327.5 256.5L323.2 252.2Z" fill="#8064A2"/>
<path d="M327.5 236.9L331.8 241.2L327.5 245.5L323.2 241.2Z" fill="#8064A2"/>
<path d="M327.5 228.8L331.8 233.1L327.5 237.4L323.2 233.1Z" fill="#8064A2"/>
<path d="M339.9 238.5L344.2 242.8L339.9 247.1L335.6 242.8Z" fill="#8064A2"/>
<path d="M339.9 235.6L344.2 239.9L339.9 244.2L335.6 239.9Z" fill="#8064A2"/>
<path d="M339.9 232.0L344.2 236.3L339.9 240.6L335.6 236.3Z" fill="#8064A2"/>
<path d="M352.2 231.0L356.5 235.3L352.2 239.6L347.9 235.3Z" fill="#8064A2"/>
<path d="M352.2 222.9L356.5 227.2L352.2 231.5L347.9 227.2Z" fill="#8064A2"/>
<path d="M352.2 204.5L356.5 208.8L352.2 213.1L347.9 208.8Z" fill="#8064A2"/>
<path d="M364.6 220.7L368.9 225.0L364.6 229.3L360.3 225.0Z" fill="#8064A2"/>
<path d="M364.6 210.9L368.9 215.2L364.6 219.5L360.3 215.2Z" fill="#8064A2"/>
<path d="M364.6 192.1L368.9 196.4L364.6 200.7L360.3 196.4Z" fill="#8064A2"/>
<path d="M377.0 212.6L381.3 216.9L377.0 221.2L372.7 216.9Z" fill="#8064A2"/>
<path d="M377.0 201.2L381.3 205.5L377.0 209.8L372.7 205.5Z" fill="#8064A2"/>
<path d="M377.0 186.6L381.3 190.9L377.0 195.2L372.7 190.9Z" fill="#8064A2"/>
<path d="M389.3 198.0L393.6 202.3L389.3 206.6L385.0 202.3Z" fill="#8064A2"/>
<path d="M389.3 186.6L393.6 190.9L389.3 195.2L385.0 190.9Z" fill="#8064A2"/>
<path d="M389.3 172.7L393.6 177.0L389.3 181.3L385.0 177.0Z" fill="#8064A2"/>
<path d="M401.7 186.3L406.0 190.6L401.7 194.9L397.4 190.6Z" fill="#8064A2"/>
<path d="M401.7 178.2L406.0 182.5L401.7 186.8L397.4 182.5Z" fill="#8064A2"/>
<path d="M401.7 164.3L406.0 168.6L401.7 172.9L397.4 168.6Z" fill="#8064A2"/>
<path d="M412.3 180.5L416.6 184.8L412.3 189.1L408.0 184.8Z" fill="#8064A2"/>
<path d="M412.3 171.1L416.6 175.4L412.3 179.7L408.0 175.4Z" fill="#8064A2"/>
<path d="M412.3 155.2L416.6 159.5L412.3 163.8L408.0 159.5Z" fill="#8064A2"/>
<path d="M451.2 175.3L455.5 179.6L451.2 183.9L446.9 179.6Z" fill="#8064A2"/>
<path d="M451.2 162.6L455.5 166.9L451.2 171.2L446.9 166.9Z" fill="#8064A2"/>
<path d="M451.2 144.8L455.5 149.1L451.2 153.4L446.9 149.1Z" fill="#8064A2"/>
<path d="M463.5 154.2L467.8 158.5L463.5 162.8L459.2 158.5Z" fill="#8064A2"/>
<path d="M463.5 133.1L467.8 137.4L463.5 141.7L459.2 137.4Z" fill="#8064A2"/>
<path d="M475.9 161.3L480.2 165.6L475.9 169.9L471.6 165.6Z" fill="#8064A2"/>
<path d="M475.9 156.8L480.2 161.1L475.9 165.4L471.6 161.1Z" fill="#8064A2"/>
<path d="M475.9 146.4L480.2 150.7L475.9 155.0L471.6 150.7Z" fill="#8064A2"/>
<path d="M488.3 165.6L492.6 169.9L488.3 174.2L484.0 169.9Z" fill="#8064A2"/>
<path d="M488.3 160.4L492.6 164.7L488.3 169.0L484.0 164.7Z" fill="#8064A2"/>
<path d="M488.3 144.2L492.6 148.5L488.3 152.8L484.0 148.5Z" fill="#8064A2"/>
<path d="M500.6 163.9L504.9 168.2L500.6 172.5L496.3 168.2Z" fill="#8064A2"/>
<path d="M500.6 157.5L504.9 161.8L500.6 166.1L496.3 161.8Z" fill="#8064A2"/>
<path d="M500.6 142.2L504.9 146.5L500.6 150.8L496.3 146.5Z" fill="#8064A2"/>
<path d="M513.0 153.2L517.3 157.5L513.0 161.8L508.7 157.5Z" fill="#8064A2"/>
<path d="M513.0 133.1L517.3 137.4L513.0 141.7L508.7 137.4Z" fill="#8064A2"/>
<path d="M525.4 157.5L529.7 161.8L525.4 166.1L521.1 161.8Z" fill="#8064A2"/>
<path d="M525.4 149.3L529.7 153.7L525.4 158.0L521.1 153.7Z" fill="#8064A2"/>
<path d="M525.4 119.2L529.7 123.5L525.4 127.8L521.1 123.5Z" fill="#8064A2"/>
<path d="M537.7 149.0L542.0 153.3L537.7 157.6L533.4 153.3Z" fill="#8064A2"/>
<path d="M537.7 141.6L542.0 145.9L537.7 150.2L533.4 145.9Z" fill="#8064A2"/>
<path d="M537.7 118.9L542.0 123.2L537.7 127.5L533.4 123.2Z" fill="#8064A2"/>
<path d="M550.1 149.3L554.4 153.7L550.1 158.0L545.8 153.7Z" fill="#8064A2"/>
<path d="M550.1 141.6L554.4 145.9L550.1 150.2L545.8 145.9Z" fill="#8064A2"/>
<path d="M550.1 109.5L554.4 113.8L550.1 118.1L545.8 113.8Z" fill="#8064A2"/>
<path d="M562.5 142.5L566.8 146.8L562.5 151.1L558.2 146.8Z" fill="#8064A2"/>
<path d="M562.5 106.6L566.8 110.9L562.5 115.2L558.2 110.9Z" fill="#8064A2"/>
<path d="M574.8 129.6L579.1 133.9L574.8 138.2L570.5 133.9Z" fill="#8064A2"/>
<path d="M574.8 92.9L579.1 97.2L574.8 101.5L570.5 97.2Z" fill="#8064A2"/>
<path d="M587.2 126.7L591.5 131.0L587.2 135.3L582.9 131.0Z" fill="#8064A2"/>
<path d="M587.2 92.3L591.5 96.6L587.2 100.9L582.9 96.6Z" fill="#8064A2"/>
<path d="M599.6 118.2L603.9 122.5L599.6 126.8L595.3 122.5Z" fill="#8064A2"/>
<path d="M599.6 76.7L603.9 81.0L599.6 85.3L595.3 81.0Z" fill="#8064A2"/>
<path d="M611.9 105.3L616.2 109.6L611.9 113.9L607.6 109.6Z" fill="#8064A2"/>
<path d="M611.9 70.6L616.2 74.9L611.9 79.2L607.6 74.9Z" fill="#8064A2"/>
<path d="M624.3 99.1L628.6 103.4L624.3 107.7L620.0 103.4Z" fill="#8064A2"/>
<path d="M624.3 71.2L628.6 75.5L624.3 79.8L620.0 75.5Z" fill="#8064A2"/>
<path d="M636.7 95.9L641.0 100.2L636.7 104.5L632.4 100.2Z" fill="#8064A2"/>
<path d="M636.7 61.2L641.0 65.5L636.7 69.8L632.4 65.5Z" fill="#8064A2"/>
<path d="M661.4 97.8L665.7 102.1L661.4 106.4L657.1 102.1Z" fill="#8064A2"/>
<path d="M661.4 90.7L665.7 95.0L661.4 99.3L657.1 95.0Z" fill="#8064A2"/>
<path d="M661.4 81.0L665.7 85.3L661.4 89.6L657.1 85.3Z" fill="#8064A2"/>
<path d="M661.4 53.4L665.7 57.7L661.4 62.0L657.1 57.7Z" fill="#8064A2"/>
<path d="M673.8 83.2L678.1 87.5L673.8 91.8L669.5 87.5Z" fill="#8064A2"/>
<path d="M673.8 76.7L678.1 81.0L673.8 85.3L669.5 81.0Z" fill="#8064A2"/>
<path d="M673.8 59.2L678.1 63.5L673.8 67.8L669.5 63.5Z" fill="#8064A2"/>
<path d="M686.1 79.7L690.4 84.0L686.1 88.3L681.8 84.0Z" fill="#8064A2"/>
<path d="M686.1 70.6L690.4 74.9L686.1 79.2L681.8 74.9Z" fill="#8064A2"/>
<path d="M686.1 57.0L690.4 61.3L686.1 65.6L681.8 61.3Z" fill="#8064A2"/>
<path d="M698.5 67.7L702.8 72.0L698.5 76.3L694.2 72.0Z" fill="#8064A2"/>
<path d="M698.5 60.5L702.8 64.8L698.5 69.1L694.2 64.8Z" fill="#8064A2"/>
<path d="M698.5 47.9L702.8 52.2L698.5 56.5L694.2 52.2Z" fill="#8064A2"/>
<path d="M58.6 399.0L66.4 406.8M66.4 399.0L58.6 406.8" stroke="#4BACC6" stroke-width="1.3" fill="none"/>
<path d="M76.3 398.7L84.1 406.5M84.1 398.7L76.3 406.5" stroke="#4BACC6" stroke-width="1.3" fill="none"/>
<path d="M88.6 397.7L96.4 405.5M96.4 397.7L88.6 405.5" stroke="#4BACC6" stroke-width="1.3" fill="none"/>
<path d="M101.0 395.5L108.8 403.3M108.8 395.5L101.0 403.3" stroke="#4BACC6" stroke-width="1.3" fill="none"/>
<path d="M113.4 391.9L121.2 399.7M121.2 391.9L113.4 399.7" stroke="#4BACC6" stroke-width="1.3" fill="none"/>
<path d="M113.4 390.9L121.2 398.7M121.2 390.9L113.4 398.7" stroke="#4BACC6" stroke-width="1.3" fill="none"/>
<path d="M125.7 389.6L133.5 397.4M133.5 389.6L125.7 397.4" stroke="#4BACC6" stroke-width="1.3" fill="none"/>
<path d="M125.7 386.7L133.5 394.5M133.5 386.7L125.7 394.5" stroke="#4BACC6" stroke-width="1.3" fill="none"/>
<path d="M138.1 385.7L145.9 393.5M145.9 385.7L138.1 393.5" stroke="#4BACC6" stroke-width="1.3" fill="none"/>
<path d="M138.1 381.2L145.9 389.0M145.9 381.2L138.1 389.0" stroke="#4BACC6" stroke-width="1.3" fill="none"/>
<path d="M150.5 377.6L158.3 385.4M158.3 377.6L150.5 385.4" stroke="#4BACC6" stroke-width="1.3" fill="none"/>
<path d="M150.5 374.1L158.3 381.9M158.3 374.1L150.5 381.9" stroke="#4BACC6" stroke-width="1.3" fill="none"/>
<path d="M162.8 370.5L170.6 378.3M170.6 370.5L162.8 378.3" stroke="#4BACC6" stroke-width="1.3" fill="none"/>
<path d="M162.8 368.2L170.6 376.0M170.6 368.2L162.8 376.0" stroke="#4BACC6" stroke-width="1.3" fill="none"/>
<path d="M162.8 365.6L170.6 373.4M170.6 365.6L162.8 373.4" stroke="#4BACC6" stroke-width="1.3" fill="none"/>
<path d="M175.2 359.2L183.0 367.0M183.0 359.2L175.2 367.0" stroke="#4BACC6" stroke-width="1.3" fill="none"/>
<path d="M175.2 356.2L183.0 364.0M183.0 356.2L175.2 364.0" stroke="#4BACC6" stroke-width="1.3" fill="none"/>
<path d="M175.2 353.0L183.0 360.8M183.0 353.0L175.2 360.8" stroke="#4BACC6" stroke-width="1.3" fill="none"/>
<path d="M187.6 344.6L195.4 352.4M195.4 344.6L187.6 352.4" stroke="#4BACC6" stroke-width="1.3" fill="none"/>
<path d="M187.6 342.3L195.4 350.1M195.4 342.3L187.6 350.1" stroke="#4BACC6" stroke-width="1.3" fill="none"/>
<path d="M199.9 330.3L207.7 338.1M207.7 330.3L199.9 338.1" stroke="#4BACC6" stroke-width="1.3" fill="none"/>
<path d="M212.3 324.2L220.1 332.0M220.1 324.2L212.3 332.0" stroke="#4BACC6" stroke-width="1.3" fill="none"/>
<path d="M224.7 315.1L232.5 322.9M232.5 315.1L224.7 322.9" stroke="#4BACC6" stroke-width="1.3" fill="none"/>
<path d="M237.0 311.8L244.8 319.6M244.8 311.8L237.0 319.6" stroke="#4BACC6" stroke-width="1.3" fill="none"/>
<path d="M237.0 307.9L244.8 315.7M244.8 307.9L237.0 315.7" stroke="#4BACC6" stroke-width="1.3" fill="none"/>
<path d="M249.4 295.6L257.2 303.4M257.2 295.6L249.4 303.4" stroke="#4BACC6" stroke-width="1.3" fill="none"/>
<path d="M249.4 290.8L257.2 298.6M257.2 290.8L249.4 298.6" stroke="#4BACC6" stroke-width="1.3" fill="none"/>
<path d="M261.8 281.7L269.6 289.5M269.6 281.7L261.8 289.5" stroke="#4BACC6" stroke-width="1.3" fill="none"/>
<path d="M274.1 276.2L281.9 284.0M281.9 276.2L274.1 284.0" stroke="#4BACC6" stroke-width="1.3" fill="none"/>
<path d="M286.5 266.1L294.3 273.9M294.3 266.1L286.5 273.9" stroke="#4BACC6" stroke-width="1.3" fill="none"/>
<path d="M298.9 247.6L306.7 255.4M306.7 247.6L298.9 255.4" stroke="#4BACC6" stroke-width="1.3" fill="none"/>
<path d="M311.2 237.3L319.0 245.1M319.0 237.3L311.2 245.1" stroke="#4BACC6" stroke-width="1.3" fill="none"/>
<path d="M323.6 225.9L331.4 233.7M331.4 225.9L323.6 233.7" stroke="#4BACC6" stroke-width="1.3" fill="none"/>
<path d="M336.0 228.8L343.8 236.6M343.8 228.8L336.0 236.6" stroke="#4BACC6" stroke-width="1.3" fill="none"/>
<path d="M336.0 212.6L343.8 220.4M343.8 212.6L336.0 220.4" stroke="#4BACC6" stroke-width="1.3" fill="none"/>
<path d="M348.3 218.8L356.1 226.6M356.1 218.8L348.3 226.6" stroke="#4BACC6" stroke-width="1.3" fill="none"/>
<path d="M348.3 202.6L356.1 210.4M356.1 202.6L348.3 210.4" stroke="#4BACC6" stroke-width="1.3" fill="none"/>
<path d="M360.7 208.7L368.5 216.5M368.5 208.7L360.7 216.5" stroke="#4BACC6" stroke-width="1.3" fill="none"/>
<path d="M373.1 196.8L380.9 204.6M380.9 196.8L373.1 204.6" stroke="#4BACC6" stroke-width="1.3" fill="none"/>
<path d="M373.1 182.5L380.9 190.3M380.9 182.5L373.1 190.3" stroke="#4BACC6" stroke-width="1.3" fill="none"/>
<path d="M385.4 190.9L393.2 198.7M393.2 190.9L385.4 198.7" stroke="#4BACC6" stroke-width="1.3" fill="none"/>
<path d="M385.4 168.6L393.2 176.4M393.2 168.6L385.4 176.4" stroke="#4BACC6" stroke-width="1.3" fill="none"/>
<path d="M397.8 180.2L405.6 188.0M405.6 180.2L397.8 188.0" stroke="#4BACC6" stroke-width="1.3" fill="none"/>
<path d="M397.8 160.1L405.6 167.9M405.6 160.1L397.8 167.9" stroke="#4BACC6" stroke-width="1.3" fill="none"/>
<path d="M408.4 166.6L416.2 174.4M416.2 166.6L408.4 174.4" stroke="#4BACC6" stroke-width="1.3" fill="none"/>
<path d="M408.4 151.4L416.2 159.2M416.2 151.4L408.4 159.2" stroke="#4BACC6" stroke-width="1.3" fill="none"/>
<path d="M447.3 181.8L455.1 189.6M455.1 181.8L447.3 189.6" stroke="#4BACC6" stroke-width="1.3" fill="none"/>
<path d="M447.3 155.9L455.1 163.7M455.1 155.9L447.3 163.7" stroke="#4BACC6" stroke-width="1.3" fill="none"/>
<path d="M459.6 157.2L467.4 165.0M467.4 157.2L459.6 165.0" stroke="#4BACC6" stroke-width="1.3" fill="none"/>
<path d="M459.6 148.1L467.4 155.9M467.4 148.1L459.6 155.9" stroke="#4BACC6" stroke-width="1.3" fill="none"/>
<path d="M472.0 168.2L479.8 176.0M479.8 168.2L472.0 176.0" stroke="#4BACC6" stroke-width="1.3" fill="none"/>
<path d="M472.0 160.1L479.8 167.9M479.8 160.1L472.0 167.9" stroke="#4BACC6" stroke-width="1.3" fill="none"/>
<path d="M484.4 178.9L492.2 186.7M492.2 178.9L484.4 186.7" stroke="#4BACC6" stroke-width="1.3" fill="none"/>
<path d="M484.4 167.6L492.2 175.4M492.2 167.6L484.4 175.4" stroke="#4BACC6" stroke-width="1.3" fill="none"/>
<path d="M484.4 157.9L492.2 165.7M492.2 157.9L484.4 165.7" stroke="#4BACC6" stroke-width="1.3" fill="none"/>
<path d="M496.7 170.8L504.5 178.6M504.5 170.8L496.7 178.6" stroke="#4BACC6" stroke-width="1.3" fill="none"/>
<path d="M496.7 162.7L504.5 170.5M504.5 162.7L496.7 170.5" stroke="#4BACC6" stroke-width="1.3" fill="none"/>
<path d="M496.7 154.6L504.5 162.4M504.5 154.6L496.7 162.4" stroke="#4BACC6" stroke-width="1.3" fill="none"/>
<path d="M509.1 166.0L516.9 173.8M516.9 166.0L509.1 173.8" stroke="#4BACC6" stroke-width="1.3" fill="none"/>
<path d="M509.1 157.9L516.9 165.7M516.9 157.9L509.1 165.7" stroke="#4BACC6" stroke-width="1.3" fill="none"/>
<path d="M509.1 142.0L516.9 149.8M516.9 142.0L509.1 149.8" stroke="#4BACC6" stroke-width="1.3" fill="none"/>
<path d="M521.5 154.6L529.3 162.4M529.3 154.6L521.5 162.4" stroke="#4BACC6" stroke-width="1.3" fill="none"/>
<path d="M521.5 144.9L529.3 152.7M529.3 144.9L521.5 152.7" stroke="#4BACC6" stroke-width="1.3" fill="none"/>
<path d="M521.5 137.8L529.3 145.6M529.3 137.8L521.5 145.6" stroke="#4BACC6" stroke-width="1.3" fill="none"/>
<path d="M533.8 151.7L541.6 159.5M541.6 151.7L533.8 159.5" stroke="#4BACC6" stroke-width="1.3" fill="none"/>
<path d="M533.8 146.5L541.6 154.3M541.6 146.5L533.8 154.3" stroke="#4BACC6" stroke-width="1.3" fill="none"/>
<path d="M533.8 130.0L541.6 137.8M541.6 130.0L533.8 137.8" stroke="#4BACC6" stroke-width="1.3" fill="none"/>
<path d="M546.2 151.7L554.0 159.5M554.0 151.7L546.2 159.5" stroke="#4BACC6" stroke-width="1.3" fill="none"/>
<path d="M546.2 124.1L554.0 131.9M554.0 124.1L546.2 131.9" stroke="#4BACC6" stroke-width="1.3" fill="none"/>
<path d="M558.6 138.1L566.4 145.9M566.4 138.1L558.6 145.9" stroke="#4BACC6" stroke-width="1.3" fill="none"/>
<path d="M558.6 123.8L566.4 131.6M566.4 123.8L558.6 131.6" stroke="#4BACC6" stroke-width="1.3" fill="none"/>
<path d="M570.9 131.9L578.7 139.7M578.7 131.9L570.9 139.7" stroke="#4BACC6" stroke-width="1.3" fill="none"/>
<path d="M570.9 127.1L578.7 134.9M578.7 127.1L570.9 134.9" stroke="#4BACC6" stroke-width="1.3" fill="none"/>
<path d="M570.9 106.0L578.7 113.8M578.7 106.0L570.9 113.8" stroke="#4BACC6" stroke-width="1.3" fill="none"/>
<path d="M583.3 121.5L591.1 129.3M591.1 121.5L583.3 129.3" stroke="#4BACC6" stroke-width="1.3" fill="none"/>
<path d="M583.3 103.4L591.1 111.2M591.1 103.4L583.3 111.2" stroke="#4BACC6" stroke-width="1.3" fill="none"/>
<path d="M595.7 114.1L603.5 121.9M603.5 114.1L595.7 121.9" stroke="#4BACC6" stroke-width="1.3" fill="none"/>
<path d="M595.7 95.6L603.5 103.4M603.5 95.6L595.7 103.4" stroke="#4BACC6" stroke-width="1.3" fill="none"/>
<path d="M608.0 106.6L615.8 114.4M615.8 106.6L608.0 114.4" stroke="#4BACC6" stroke-width="1.3" fill="none"/>
<path d="M608.0 89.8L615.8 97.6M615.8 89.8L608.0 97.6" stroke="#4BACC6" stroke-width="1.3" fill="none"/>
<path d="M620.4 103.1L628.2 110.9M628.2 103.1L620.4 110.9" stroke="#4BACC6" stroke-width="1.3" fill="none"/>
<path d="M620.4 83.6L628.2 91.4M628.2 83.6L620.4 91.4" stroke="#4BACC6" stroke-width="1.3" fill="none"/>
<path d="M632.8 101.1L640.6 108.9M640.6 101.1L632.8 108.9" stroke="#4BACC6" stroke-width="1.3" fill="none"/>
<path d="M632.8 77.1L640.6 84.9M640.6 77.1L632.8 84.9" stroke="#4BACC6" stroke-width="1.3" fill="none"/>
<path d="M657.5 86.2L665.3 94.0M665.3 86.2L657.5 94.0" stroke="#4BACC6" stroke-width="1.3" fill="none"/>
<path d="M657.5 65.8L665.3 73.6M665.3 65.8L657.5 73.6" stroke="#4BACC6" stroke-width="1.3" fill="none"/>
<path d="M669.9 86.2L677.7 94.0M677.7 86.2L669.9 94.0" stroke="#4BACC6" stroke-width="1.3" fill="none"/>
<path d="M669.9 68.7L677.7 76.5M677.7 68.7L669.9 76.5" stroke="#4BACC6" stroke-width="1.3" fill="none"/>
<path d="M669.9 52.5L677.7 60.3M677.7 52.5L669.9 60.3" stroke="#4BACC6" stroke-width="1.3" fill="none"/>
<path d="M682.2 76.5L690.0 84.3M690.0 76.5L682.2 84.3" stroke="#4BACC6" stroke-width="1.3" fill="none"/>
<path d="M682.2 49.6L690.0 57.4M690.0 49.6L682.2 57.4" stroke="#4BACC6" stroke-width="1.3" fill="none"/>
<path d="M694.6 65.5L702.4 73.3M702.4 65.5L694.6 73.3" stroke="#4BACC6" stroke-width="1.3" fill="none"/>
<path d="M694.6 37.6L702.4 45.4M702.4 37.6L694.6 45.4" stroke="#4BACC6" stroke-width="1.3" fill="none"/>
<text x="376" y="455.7" text-anchor="middle" class="t">Age (days)</text>
<text transform="translate(19.6,221.5) rotate(-90)" text-anchor="middle" class="t">Bird Weight (kg)</text>
<text x="494.5" y="475.6" text-anchor="middle" class="t">Fitted curves</text>
<text x="239.8" y="520.9" text-anchor="middle" class="t">Mean values</text>
<circle cx="126.6" cy="490.2" r="4.0" fill="#1F4B85"/>
<text x="144.9" y="494.6" class="t">1</text>
<path d="M177.0 485.8L181.3 494.1L172.7 494.1Z" fill="#C0504D"/>
<text x="195.3" y="494.6" class="t">2</text>
<rect x="223.2" y="486.1" width="8.2" height="8.2" fill="#9BBB59"/>
<text x="245.6" y="494.6" class="t">3</text>
<path d="M277.7 485.9L282.0 490.2L277.7 494.5L273.4 490.2Z" fill="#8064A2"/>
<text x="296.0" y="494.6" class="t">4</text>
<path d="M324.0 486.3L331.8 494.1M331.8 486.3L324.0 494.1" stroke="#4BACC6" stroke-width="1.3" fill="none"/>
<text x="346.2" y="494.6" class="t">5</text>
<line x1="362.8" y1="490" x2="393.3" y2="490" stroke="#1F4B85" stroke-width="3.8" stroke-linecap="round"/>
<text x="395.5" y="494.6" class="t">D1</text>
<line x1="423.8" y1="490" x2="454.3" y2="490" stroke="#C0504D" stroke-width="3.8" stroke-linecap="round"/>
<text x="456.5" y="494.6" class="t">D2</text>
<line x1="483.5" y1="490" x2="514.0" y2="490" stroke="#9BBB59" stroke-width="3.8" stroke-linecap="round"/>
<text x="516.2" y="494.6" class="t">D3</text>
<line x1="543.8" y1="490" x2="574.3" y2="490" stroke="#8064A2" stroke-width="3.8" stroke-linecap="round"/>
<text x="576.5" y="494.6" class="t">D4</text>
<line x1="604.6" y1="490" x2="635.1" y2="490" stroke="#4BACC6" stroke-width="3.8" stroke-linecap="round"/>
<text x="637.3" y="494.6" class="t">D5</text>
<text x="75.2" y="37.2" class="t" style="font-size:13.85px">Bird mass = a*exp(-exp(-b*(Age-c)))</text>
<text x="73.0" y="68.9" class="t" style="font-size:13.8px">D1 R<tspan dx="-0.3" dy="-5.6" font-size="10px">2</tspan><tspan dx="-0.6" dy="5.6"> = 0.919</tspan></text>
<text x="73.0" y="84.6" class="t" style="font-size:13.8px">D2 R<tspan dx="-0.3" dy="-5.6" font-size="10px">2</tspan><tspan dx="-0.6" dy="5.6"> = 0.907</tspan></text>
<text x="73.0" y="100.9" class="t" style="font-size:13.8px">D3 R<tspan dx="-0.3" dy="-5.6" font-size="10px">2</tspan><tspan dx="-0.6" dy="5.6"> = 0.933</tspan></text>
<text x="73.0" y="116.6" class="t" style="font-size:13.8px">D4 R<tspan dx="-0.3" dy="-5.6" font-size="10px">2</tspan><tspan dx="-0.6" dy="5.6"> = 0.962</tspan></text>
<text x="73.0" y="132.2" class="t" style="font-size:13.8px">D5 R<tspan dx="-0.3" dy="-5.6" font-size="10px">2</tspan><tspan dx="-0.6" dy="5.6"> = 0.950</tspan></text>
<text x="356.5" y="552.3" text-anchor="middle" class="c"><tspan font-weight="bold">Figure 1</tspan> Gompertz growth curves fitted to ostriches body weight increase over time per treatment diet</text>
<text x="356.5" y="569.8" text-anchor="middle" class="c">a) maximum weight, kg, b) rate of maturing parameter, and c) age of maximum growth, days</text>
</svg>
</body></html>
